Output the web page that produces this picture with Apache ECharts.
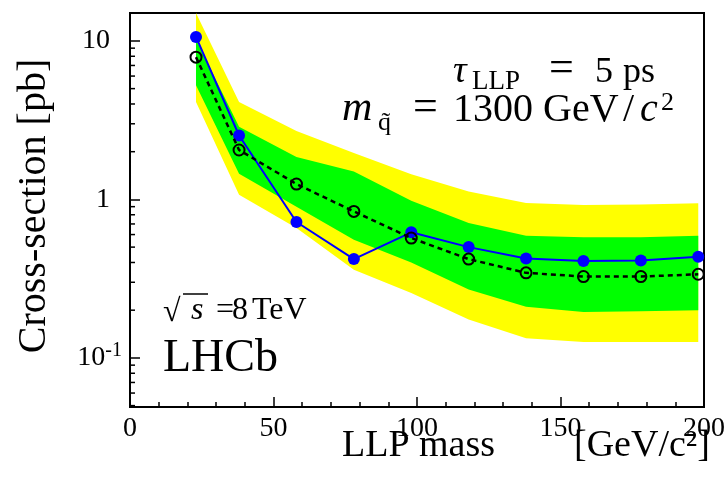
<!DOCTYPE html>
<html>
<head>
<meta charset="utf-8">
<script src="https://cdn.jsdelivr.net/npm/echarts@6/dist/echarts.min.js"></script>
<style>html,body{margin:0;padding:0;background:#fff;}#c{width:728px;height:486px;}</style>
</head>
<body>
<div id="c"></div>
<script>
// ---- data ----
const mass      = [23, 38, 58, 78, 98, 118, 138, 158, 178, 198];
const observed  = [10.6, 2.53, 0.72, 0.42, 0.62, 0.50, 0.424, 0.408, 0.412, 0.435];
const expected  = [7.9, 2.05, 1.25, 0.84, 0.57, 0.42, 0.344, 0.326, 0.326, 0.337];
const band1Hi   = [10.2, 2.87, 1.85, 1.50, 0.98, 0.71, 0.59, 0.578, 0.578, 0.589];
const band1Lo   = [5.25, 1.45, 0.90, 0.556, 0.40, 0.27, 0.21, 0.195, 0.197, 0.20];
const band2Hi   = [15, 4.12, 2.7, 1.96, 1.44, 1.12, 0.95, 0.923, 0.93, 0.946];
const band2Lo   = [4.12, 1.07, 0.66, 0.36, 0.257, 0.175, 0.133, 0.126, 0.126, 0.126];
const xTicks    = [0, 50, 100, 150, 200];
const yTickLabels = {'10': '{n|10}', '1': '{n|1}', '0.1': '{m|10}{sup|-1}'};
const yMin = 0.049, yMax = 15;

const SERIF = '"Liberation Serif", "Times New Roman", serif';
const chart = echarts.init(document.getElementById('c'), null, {renderer: 'canvas'});

function bandSeries(lo, hi, color, z) {
  return {
    type: 'custom', z: z, silent: true,
    data: mass.map((m, i) => [m, lo[i], hi[i]]),
    renderItem: function (params, api) {
      if (params.dataIndex !== 0) return null;
      const top = mass.map((m, i) => api.coord([m, hi[i]]));
      const bot = mass.map((m, i) => api.coord([m, lo[i]])).reverse();
      return {type: 'polygon', shape: {points: top.concat(bot)}, style: {fill: color, stroke: null}};
    }
  };
}

// minor log ticks on the y axis (only inside the axis range)
const yMinor = [];
[0.01, 0.1, 1].forEach(d => { for (let k = 2; k <= 9; k++) { const v = +(k * d).toPrecision(3); if (v >= yMin && v <= yMax) yMinor.push(v); } });

function seg(text, x, base, size, italic) {
  return {type: 'text', z: 100, style: {
    text: text, x: x, y: base - 0.3 * size,
    font: (italic ? 'italic ' : '') + size + 'px ' + SERIF,
    fill: '#000', align: 'left', verticalAlign: 'middle',
    textAlign: 'left', textVerticalAlign: 'middle'
  }};
}

const option = {
  animation: false,
  backgroundColor: '#fff',
  grid: {left: 130, right: 14, top: 13, bottom: 79, show: true, borderColor: '#000', borderWidth: 2, backgroundColor: 'transparent'},
  xAxis: {
    type: 'value', min: 0, max: 200, interval: 50,
    axisLine: {show: true, lineStyle: {color: '#000', width: 2}},
    axisTick: {show: true, inside: true, length: 10, lineStyle: {color: '#000', width: 1.5}},
    minorTick: {show: true, splitNumber: 5, length: 5, lineStyle: {color: '#000', width: 1.5}},
    splitLine: {show: false},
    axisLabel: {
      color: '#000', fontFamily: SERIF, fontSize: 28, margin: 8,
      formatter: v => xTicks.indexOf(v) >= 0 ? String(v) : ''
    }
  },
  yAxis: {
    type: 'log', logBase: 10, min: yMin, max: yMax,
    axisLine: {show: true, lineStyle: {color: '#000', width: 2}},
    axisTick: {show: true, inside: true, length: 10, lineStyle: {color: '#000', width: 1.5}},
    splitLine: {show: false},
    axisLabel: {
      color: '#000', fontFamily: SERIF, fontSize: 28, margin: 8,
      formatter: function (v) {
        const key = String(+v.toPrecision(6));
        return yTickLabels[key] || '';
      },
      rich: {
        n: {fontFamily: SERIF, fontSize: 28, color: '#000', padding: [0, 12, 0, 0]},
        m: {fontFamily: SERIF, fontSize: 28, color: '#000'},
        sup: {fontFamily: SERIF, fontSize: 20, color: '#000', verticalAlign: 'top', padding: [0, 0, 14, 0]}
      }
    }
  },
  series: [
    bandSeries(band2Lo, band2Hi, '#ffff00', 1),
    bandSeries(band1Lo, band1Hi, '#00ff00', 2),
    {
      type: 'custom', z: 5, silent: true,
      data: yMinor.map(v => [0, v]),
      renderItem: function (params, api) {
        const p = api.coord([0, api.value(1)]);
        return {type: 'line', shape: {x1: p[0], y1: p[1], x2: p[0] + 5, y2: p[1]}, style: {stroke: '#000', lineWidth: 1.5}};
      }
    },
    {
      type: 'line', z: 6, data: mass.map((m, i) => [m, observed[i]]),
      symbol: 'circle', symbolSize: 12,
      itemStyle: {color: '#0000ff'},
      lineStyle: {color: '#0000ff', width: 2}
    },
    {
      type: 'line', z: 7, data: mass.map((m, i) => [m, expected[i]]),
      symbol: 'circle', symbolSize: 11,
      itemStyle: {color: 'rgba(0,0,0,0)', borderColor: '#000', borderWidth: 2},
      lineStyle: {color: '#000', width: 2.5, type: [5, 4]}
    }
  ],
  graphic: [
    // tau line
    seg('τ', 453, 83, 38, true),
    seg('LLP', 472, 90, 27, false),
    seg('=', 549, 83, 44, false),
    seg('5', 595, 83, 36, false),
    seg('ps', 623, 83, 36, false),
    // m line
    seg('m', 342, 122, 42, true),
    seg('q\u0303', 378, 131, 26, false),
    seg('=', 413, 122, 44, false),
    seg('1300', 453, 122, 40, false),
    seg('GeV', 543, 122, 40, false),
    seg('/', 623, 122, 40, false),
    seg('c', 640, 122, 40, true),
    seg('2', 661, 111, 26, false),
    // sqrt s
    seg('√', 163, 322, 32, false),
    {type: 'line', z: 100, shape: {x1: 183, y1: 294, x2: 208, y2: 294}, style: {stroke: '#000', lineWidth: 1.5}},
    seg('s', 191, 320, 32, true),
    seg('=', 216, 320, 32, false),
    seg('8', 232, 320, 32, false),
    seg('TeV', 252, 320, 32, false),
    seg('LHCb', 163, 373, 46, false),
    // axis titles
    seg('LLP mass', 342, 457, 38, false),
    seg('[GeV/c²]', 574, 457, 38, false),
    {type: 'text', z: 100, x: 34, y: 206, rotation: Math.PI / 2, style: {
      text: 'Cross-section [pb]', font: '40px ' + SERIF, fill: '#000',
      align: 'center', verticalAlign: 'middle', textAlign: 'center', textVerticalAlign: 'middle'}}
  ]
};
chart.setOption(option);
</script>
</body>
</html>
